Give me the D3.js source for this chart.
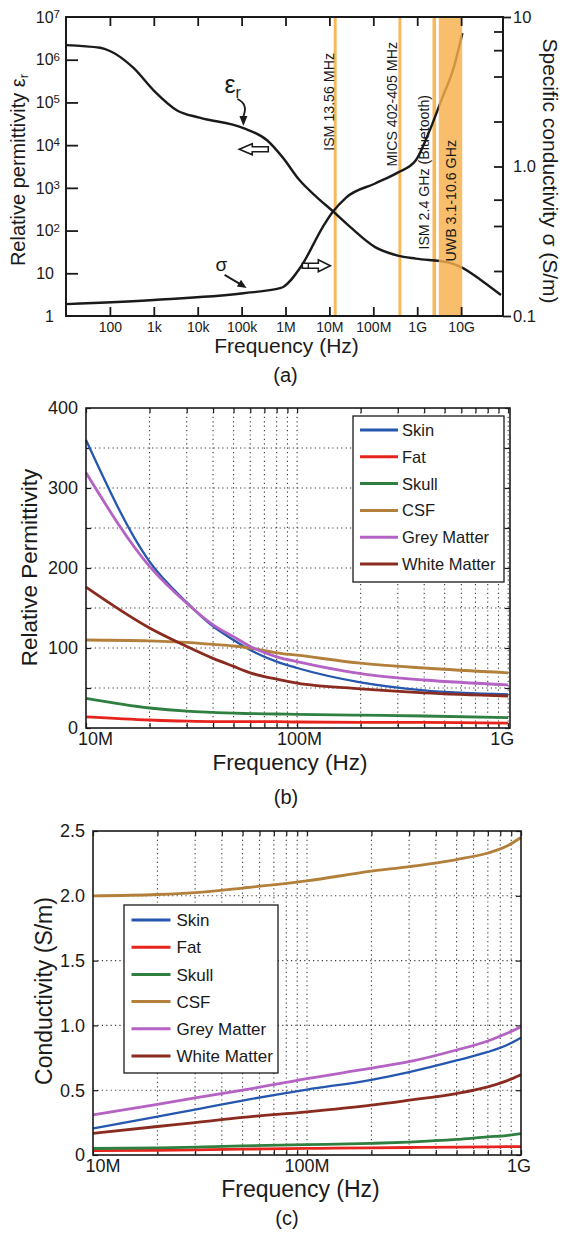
<!DOCTYPE html>
<html>
<head>
<meta charset="utf-8">
<script src="https://cdn.jsdelivr.net/npm/d3@7"></script>
<style>
  body { margin: 0; background: #fff; }
  svg { display: block; }
  text { font-family: "Liberation Sans", Arial, sans-serif; fill: #1a1a1a; }
</style>
</head>
<body>
<svg id="chart" width="562" height="1233"></svg>
<script>
// ===== (a) broadband dielectric spectrum of tissue =====
const freqEps = [10, 60, 100, 340, 1e3, 3.4e3, 1.1e4, 1.1e5, 3.8e5, 8.7e5, 2.1e6, 5.2e6, 1.15e7, 3e7, 1.1e8, 3.6e8, 9.3e8, 5e9, 1e10, 2.8e10, 8.1e10];
const epsR    = [2.2e6, 1.9e6, 1.6e6, 6.5e5, 1.9e5, 6.5e4, 4.4e4, 2.5e4, 1.3e4, 5.1e3, 1.5e3, 600, 295, 120, 41, 26, 22, 18, 14, 7, 3.1];
const freqSigma = [10, 1e3, 1.1e5, 7.9e5, 2.2e6, 7e6, 1.15e7, 2.4e7, 1.1e8, 3.6e8, 9.3e8, 1.8e9, 3.5e9, 6.8e9, 1.07e10];
const sigma     = [0.12, 0.128, 0.142, 0.154, 0.212, 0.392, 0.49, 0.62, 0.77, 0.91, 1.1, 1.66, 2.75, 4.6, 7.8];

const freqTicksA = [1e2, 1e3, 1e4, 1e5, 1e6, 1e7, 1e8, 1e9, 1e10];
const freqTickLabelsA = ["100", "1k", "10k", "100k", "1M", "10M", "100M", "1G", "10G"];
const epsTicks = [1, 10, 1e2, 1e3, 1e4, 1e5, 1e6, 1e7];
const epsTickBase = ["1", "10", "10", "10", "10", "10", "10", "10"];
const epsTickExp  = ["", "", "2", "3", "4", "5", "6", "7"];
const sigmaMinorTicks = [0.2, 0.4, 0.6, 1, 2, 4, 6, 8];
const sigmaLabelTicks = [0.1, 1, 10];
const sigmaTickLabels = ["0.1", "1.0", "10"];

// allocated frequency bands (Hz)
const bandFreqs  = [13.56e6, 403.5e6, 2.45e9];
const bandNames  = ["ISM 13.56 MHz", "MICS 402-405 MHz", "ISM 2.4 GHz (Bluetooth)"];
const uwbRange   = [3.1e9, 10.6e9];
const uwbName    = "UWB 3.1-10.6 GHz";

// ===== (b) relative permittivity, (c) conductivity of head tissues =====
const tissueNames = ["Skin", "Fat", "Skull", "CSF", "Grey Matter", "White Matter"];
const freqPerm = [1e7, 2e7, 3e7, 4e7, 5e7, 6e7, 8e7, 1e8, 2e8, 4e8, 1e9];
const permSkin  = [360, 208, 157, 127, 110, 97.5, 83, 75, 57, 47, 42];
const permFat   = [14, 10, 8.5, 8, 8, 8, 8, 7.5, 7, 7, 6];
const permSkull = [37, 25, 21, 19.5, 18.5, 18, 17.5, 17, 16, 15, 13];
const permCSF   = [110, 109, 107, 104.5, 102.5, 100, 94, 91, 81, 75, 69];
const permGrey  = [319, 202, 156, 129, 114, 102, 89, 83, 68, 60, 54];
const permWhite = [176, 125, 102, 87, 77, 69, 61, 56, 49, 44, 40];

const freqCond = [1e7, 2e7, 3e7, 5e7, 1e8, 2e8, 3e8, 5e8, 7e8, 8.5e8, 1e9];
const condSkin  = [0.205, 0.297, 0.35, 0.42, 0.505, 0.58, 0.64, 0.73, 0.795, 0.845, 0.905];
const condFat   = [0.033, 0.036, 0.04, 0.045, 0.051, 0.055, 0.058, 0.061, 0.063, 0.064, 0.064];
const condSkull = [0.05, 0.055, 0.06, 0.07, 0.08, 0.09, 0.10, 0.12, 0.14, 0.15, 0.165];
const condCSF   = [2.0, 2.01, 2.025, 2.06, 2.115, 2.19, 2.225, 2.28, 2.33, 2.38, 2.45];
const condGrey  = [0.31, 0.39, 0.44, 0.50, 0.59, 0.67, 0.72, 0.81, 0.88, 0.935, 0.99];
const condWhite = [0.167, 0.22, 0.25, 0.29, 0.333, 0.385, 0.423, 0.474, 0.525, 0.57, 0.62];

const tissueFreqTicks = [1e7, 1e8, 1e9];
const tissueFreqLabels = ["10M", "100M", "1G"];
const permTickLabels = ["0", "100", "200", "300", "400"];
const condTickLabels = ["0", "0.5", "1.0", "1.5", "2.0", "2.5"];

// ---- styling ----
const INK = "#1a1a1a";
const ORANGE = "#f6b04a";
const tissueColors = ["#2457ad", "#e6241d", "#2f8040", "#b2803b", "#b462c4", "#8a2b20"];

const svg = d3.select("#chart");

// ================= panel (a) =================
(function panelA() {
  const g = svg.append("g");
  const x = d3.scaleLog().domain([10, 9e10]).range([66, 503]);
  const yE = d3.scaleLog().domain([1, 1e7]).range([316, 17]);
  const yS = d3.scaleLog().domain([0.1, 10]).range([316, 17]);

  // narrow band markers (under the curves)
  g.selectAll("line.band").data(bandFreqs).join("line")
    .attr("x1", d => x(d)).attr("x2", d => x(d))
    .attr("y1", yE.range()[1]).attr("y2", yE.range()[0])
    .attr("stroke", ORANGE).attr("stroke-opacity", 0.9)
    .attr("stroke-width", (d, i) => i === 2 ? 3.6 : 3);

  const line = (fy) => d3.line().x(d => x(d[0])).y(d => fy(d[1])).curve(d3.curveMonotoneX);
  g.append("path").datum(d3.zip(freqEps, epsR)).attr("d", line(yE))
    .attr("fill", "none").attr("stroke", INK).attr("stroke-width", 2.4);
  g.append("path").datum(d3.zip(freqSigma, sigma)).attr("d", line(yS))
    .attr("fill", "none").attr("stroke", INK).attr("stroke-width", 2.4);

  // UWB band drawn over the curves
  g.append("rect")
    .attr("x", x(uwbRange[0])).attr("width", x(uwbRange[1]) - x(uwbRange[0]))
    .attr("y", yE.range()[1]).attr("height", yE.range()[0] - yE.range()[1])
    .attr("fill", ORANGE).attr("fill-opacity", 0.82);

  // band labels, vertical, just left of each marker
  const labelTop = [53, 42, 95, 140];
  const labelShift = [-1.5, -2.5, -5, 0];
  bandFreqs.forEach((f, i) => {
    g.append("text")
      .attr("transform", `translate(${x(f) + labelShift[i]},${labelTop[i]}) rotate(-90)`)
      .attr("text-anchor", "end").attr("font-size", 14.2).text(bandNames[i]);
  });
  g.append("text")
    .attr("transform", `translate(${x(uwbRange[1]) - 6},${labelTop[3]}) rotate(-90)`)
    .attr("text-anchor", "end").attr("font-size", 14.2).text(uwbName);

  // frame
  g.append("rect").attr("x", 66).attr("y", 17).attr("width", 437).attr("height", 299)
    .attr("fill", "none").attr("stroke", INK).attr("stroke-width", 2);

  // bottom axis
  const ax = g.append("g").attr("transform", "translate(0,316)")
    .call(d3.axisBottom(x).tickValues(freqTicksA).tickFormat((d, i) => freqTickLabelsA[i])
      .tickSizeInner(-9).tickSizeOuter(0).tickPadding(6));
  // top axis
  const axT = g.append("g").attr("transform", "translate(0,17)")
    .call(d3.axisTop(x).tickValues(freqTicksA).tickFormat("").tickSizeInner(-9).tickSizeOuter(0));
  // left axis
  const axL = g.append("g").attr("transform", "translate(66,0)")
    .call(d3.axisLeft(yE).tickValues(epsTicks.slice(1, 7)).tickFormat("").tickSizeInner(-12).tickSizeOuter(0));
  // right axis
  const axR = g.append("g").attr("transform", "translate(503,0)")
    .call(d3.axisRight(yS).tickValues(sigmaMinorTicks).tickFormat("").tickSizeInner(-9).tickSizeOuter(0));
  const axR2 = g.append("g").attr("transform", "translate(503,0)")
    .call(d3.axisRight(yS).tickValues([0.1, 10]).tickFormat("").tickSizeInner(8).tickSizeOuter(0));
  [ax, axT, axL, axR, axR2].forEach(a => {
    a.select(".domain").remove();
    a.selectAll(".tick line").attr("stroke", INK).attr("stroke-width", 1.8);
  });
  ax.selectAll(".tick text").attr("font-size", 14).attr("fill", INK);

  // left tick labels with exponents
  epsTicks.forEach((v, i) => {
    const t = g.append("text").attr("x", epsTickExp[i] ? 60 : 54).attr("y", yE(v))
      .attr("dy", "0.36em").attr("text-anchor", "end").attr("font-size", 16);
    t.append("tspan").text(epsTickBase[i]);
    if (epsTickExp[i]) t.append("tspan").attr("dy", "-0.42em").attr("font-size", 11.5).text(epsTickExp[i]);
  });
  // right tick labels
  sigmaLabelTicks.forEach((v, i) => {
    g.append("text").attr("x", 513).attr("y", yS(v)).attr("dy", "0.36em")
      .attr("font-size", 16.5).text(sigmaTickLabels[i]);
  });

  // axis titles
  const tl = g.append("text").attr("transform", "translate(24.5,170) rotate(-90)")
    .attr("text-anchor", "middle").attr("font-size", 20);
  tl.append("tspan").text("Relative permittivity ε");
  tl.append("tspan").attr("dy", "0.3em").attr("font-size", 13).text("r");
  g.append("text").attr("transform", "translate(542.5,171) rotate(90)")
    .attr("text-anchor", "middle").attr("font-size", 21).text("Specific conductivity σ (S/m)");
  g.append("text").attr("x", 286.5).attr("y", 353).attr("text-anchor", "middle")
    .attr("font-size", 21).text("Frequency (Hz)");

  // curve annotations
  const epsTip = [x(1.1e5), yE(2.8e4)];
  const ea = g.append("text").attr("x", epsTip[0] - 19).attr("y", epsTip[1] - 33)
    .attr("font-family", "DejaVu Sans").attr("font-size", 25);
  ea.append("tspan").text("ε");
  ea.append("tspan").attr("dy", "0.28em").attr("font-size", 16).text("r");
  g.append("path")
    .attr("d", `M${epsTip[0] - 6},${epsTip[1] - 27} Q${epsTip[0] + 5},${epsTip[1] - 22} ${epsTip[0]},${epsTip[1] - 10}`)
    .attr("fill", "none").attr("stroke", INK).attr("stroke-width", 1.8);
  g.append("path")
    .attr("d", `M${epsTip[0] - 4},${epsTip[1] - 10} L${epsTip[0] + 4},${epsTip[1] - 10} L${epsTip[0]},${epsTip[1]} Z`)
    .attr("fill", INK);

  const sigTip = [x(1.3e5), yS(0.145) - 4];
  g.append("text").attr("x", sigTip[0] - 31).attr("y", sigTip[1] - 17)
    .attr("font-family", "DejaVu Sans").attr("font-size", 19).text("σ");
  g.append("line").attr("x1", sigTip[0] - 22).attr("y1", sigTip[1] - 13)
    .attr("x2", sigTip[0] - 6).attr("y2", sigTip[1] - 3.5)
    .attr("stroke", INK).attr("stroke-width", 1.8);
  g.append("path")
    .attr("d", `M${sigTip[0]},${sigTip[1]} L${sigTip[0] - 9.8},${sigTip[1] - 1.4} L${sigTip[0] - 5.6},${sigTip[1] - 8.2} Z`)
    .attr("fill", INK);

  // hollow arrows pointing toward each curve's axis
  const la = [x(1.15e5) - 5, yE(8e3)];
  g.append("path")
    .attr("d", `M${la[0]},${la[1]} l13,-5.5 v3 h16 v5 h-16 v3 Z`)
    .attr("fill", "#fff").attr("stroke", INK).attr("stroke-width", 1.6).attr("stroke-linejoin", "miter");
  const ra = [x(1.05e7), yE(15)];
  g.append("path")
    .attr("d", `M${ra[0]},${ra[1]} l-12,-6 v3.5 h-16 v5 h16 v3.5 Z`)
    .attr("fill", "#fff").attr("stroke", INK).attr("stroke-width", 1.6);
  g.append("line").attr("x1", ra[0] - 22).attr("x2", ra[0] - 22)
    .attr("y1", ra[1] - 2.5).attr("y2", ra[1] + 2.5).attr("stroke", INK).attr("stroke-width", 1.4);

  svg.append("text").attr("x", 285.5).attr("y", 382).attr("text-anchor", "middle")
    .attr("font-family", "Liberation Serif, Times New Roman, serif").attr("font-size", 20).text("(a)");
})();

// ================= panels (b) and (c) =================
function tissuePanel(p) {
  const g = svg.append("g");
  const x = d3.scaleLog().domain(p.xDomain).range([p.left, p.right]);
  const y = d3.scaleLinear().domain(p.yDomain).range([p.bottom, p.top]);

  const xMinor = x.ticks().filter(v => v > p.xDomain[0] * 1.001 && v < p.xDomain[1] * 0.995);
  const xAll = x.ticks().filter(v => v >= p.xDomain[0] && v <= p.xDomain[1]);
  const yGrid = d3.range(p.yDomain[0], p.yDomain[1] + p.gridStep / 2, p.gridStep);

  const grid = g.append("g").attr("stroke", "#3a3a3a").attr("stroke-width", 1.1)
    .attr("stroke-dasharray", "1.2,3.2");
  grid.selectAll("line.v").data(xMinor).join("line")
    .attr("x1", d => x(d)).attr("x2", d => x(d)).attr("y1", p.top).attr("y2", p.bottom);
  grid.selectAll("line.h").data(yGrid.slice(1, -1)).join("line")
    .attr("y1", d => y(d)).attr("y2", d => y(d)).attr("x1", p.left).attr("x2", p.right);

  // tick marks on all four sides
  const axes = [
    g.append("g").attr("transform", `translate(0,${p.bottom})`)
      .call(d3.axisBottom(x).tickValues(xAll).tickFormat("").tickSizeInner(-5).tickSizeOuter(0)),
    g.append("g").attr("transform", `translate(0,${p.top})`)
      .call(d3.axisTop(x).tickValues(xAll).tickFormat("").tickSizeInner(-5).tickSizeOuter(0)),
    g.append("g").attr("transform", `translate(${p.left},0)`)
      .call(d3.axisLeft(y).tickValues(yGrid).tickFormat("").tickSizeInner(-5).tickSizeOuter(0)),
    g.append("g").attr("transform", `translate(${p.right},0)`)
      .call(d3.axisRight(y).tickValues(yGrid).tickFormat("").tickSizeInner(-5).tickSizeOuter(0))
  ];
  axes.forEach(a => {
    a.select(".domain").remove();
    a.selectAll(".tick line").attr("stroke", INK).attr("stroke-width", 1.2);
  });

  // series
  const line = d3.line().x(d => x(d[0])).y(d => y(d[1])).curve(d3.curveMonotoneX);
  p.series.forEach((vals, i) => {
    g.append("path").datum(d3.zip(p.freqs, vals)).attr("d", line)
      .attr("fill", "none").attr("stroke", tissueColors[i])
      .attr("stroke-width", i === 0 ? 2.3 : 2.8).attr("stroke-linejoin", "round");
  });

  g.append("rect").attr("x", p.left).attr("y", p.top)
    .attr("width", p.right - p.left).attr("height", p.bottom - p.top)
    .attr("fill", "none").attr("stroke", INK).attr("stroke-width", 1.6);

  // tick labels
  tissueFreqTicks.forEach((v, i) => {
    g.append("text").attr("x", x(v) + p.xLabelShift[i]).attr("y", p.bottom + 17)
      .attr("text-anchor", "middle").attr("font-size", 18).text(tissueFreqLabels[i]);
  });
  p.yLabels.forEach((lab, i) => {
    const v = p.yDomain[0] + i * p.labelStep;
    g.append("text").attr("x", p.left - 8).attr("y", y(v)).attr("dy", "0.36em")
      .attr("text-anchor", "end").attr("font-size", 18).text(lab);
  });

  // titles
  g.append("text").attr("transform", `translate(${p.yTitlePos[0]},${p.yTitlePos[1]}) rotate(-90)`)
    .attr("text-anchor", "middle").attr("font-size", p.titleSize).text(p.yTitle);
  g.append("text").attr("x", p.xTitlePos[0]).attr("y", p.xTitlePos[1])
    .attr("text-anchor", "middle").attr("font-size", p.titleSize).text("Frequency (Hz)");

  // legend
  const L = p.legend;
  const lg = g.append("g").attr("transform", `translate(${L.x},${L.y})`);
  lg.append("rect").attr("width", L.w).attr("height", L.h)
    .attr("fill", "#fff").attr("stroke", INK).attr("stroke-width", 1.3);
  tissueNames.forEach((name, i) => {
    const ry = L.first + i * L.step;
    lg.append("line").attr("x1", L.lineX[0]).attr("x2", L.lineX[1]).attr("y1", ry).attr("y2", ry)
      .attr("stroke", tissueColors[i]).attr("stroke-width", 3);
    lg.append("text").attr("x", L.textX).attr("y", ry).attr("dy", "0.36em")
      .attr("font-size", L.fontSize).text(name);
  });

  svg.append("text").attr("x", p.caption[0]).attr("y", p.caption[1]).attr("text-anchor", "middle")
    .attr("font-family", "Liberation Serif, Times New Roman, serif").attr("font-size", 20).text(p.caption[2]);
}

tissuePanel({
  left: 86, right: 510, top: 408, bottom: 728,
  xDomain: [1e7, 1.02e9], yDomain: [0, 400], gridStep: 50, labelStep: 100,
  freqs: freqPerm,
  series: [permSkin, permFat, permSkull, permCSF, permGrey, permWhite],
  yLabels: permTickLabels, xLabelShift: [9.5, 2.5, -6],
  yTitle: "Relative Permittivity", yTitlePos: [36.5, 567.5], xTitlePos: [290, 770], titleSize: 22.5,
  legend: { x: 353, y: 416, w: 151, h: 166, first: 14, step: 26.8, lineX: [7, 45], textX: 49, fontSize: 16.5 },
  caption: [286, 804, "(b)"]
});

tissuePanel({
  left: 93, right: 521, top: 831, bottom: 1155,
  xDomain: [1e7, 1e9], yDomain: [0, 2.5], gridStep: 0.5, labelStep: 0.5,
  freqs: freqCond,
  series: [condSkin, condFat, condSkull, condCSF, condGrey, condWhite],
  yLabels: condTickLabels, xLabelShift: [10, 0, -2],
  yTitle: "Conductivity (S/m)", yTitlePos: [52, 991], xTitlePos: [300.5, 1197], titleSize: 23,
  legend: { x: 124, y: 905, w: 154, h: 168, first: 15, step: 27.2, lineX: [7.5, 46.5], textX: 52.5, fontSize: 17 },
  caption: [287, 1225, "(c)"]
});
</script>
</body>
</html>
